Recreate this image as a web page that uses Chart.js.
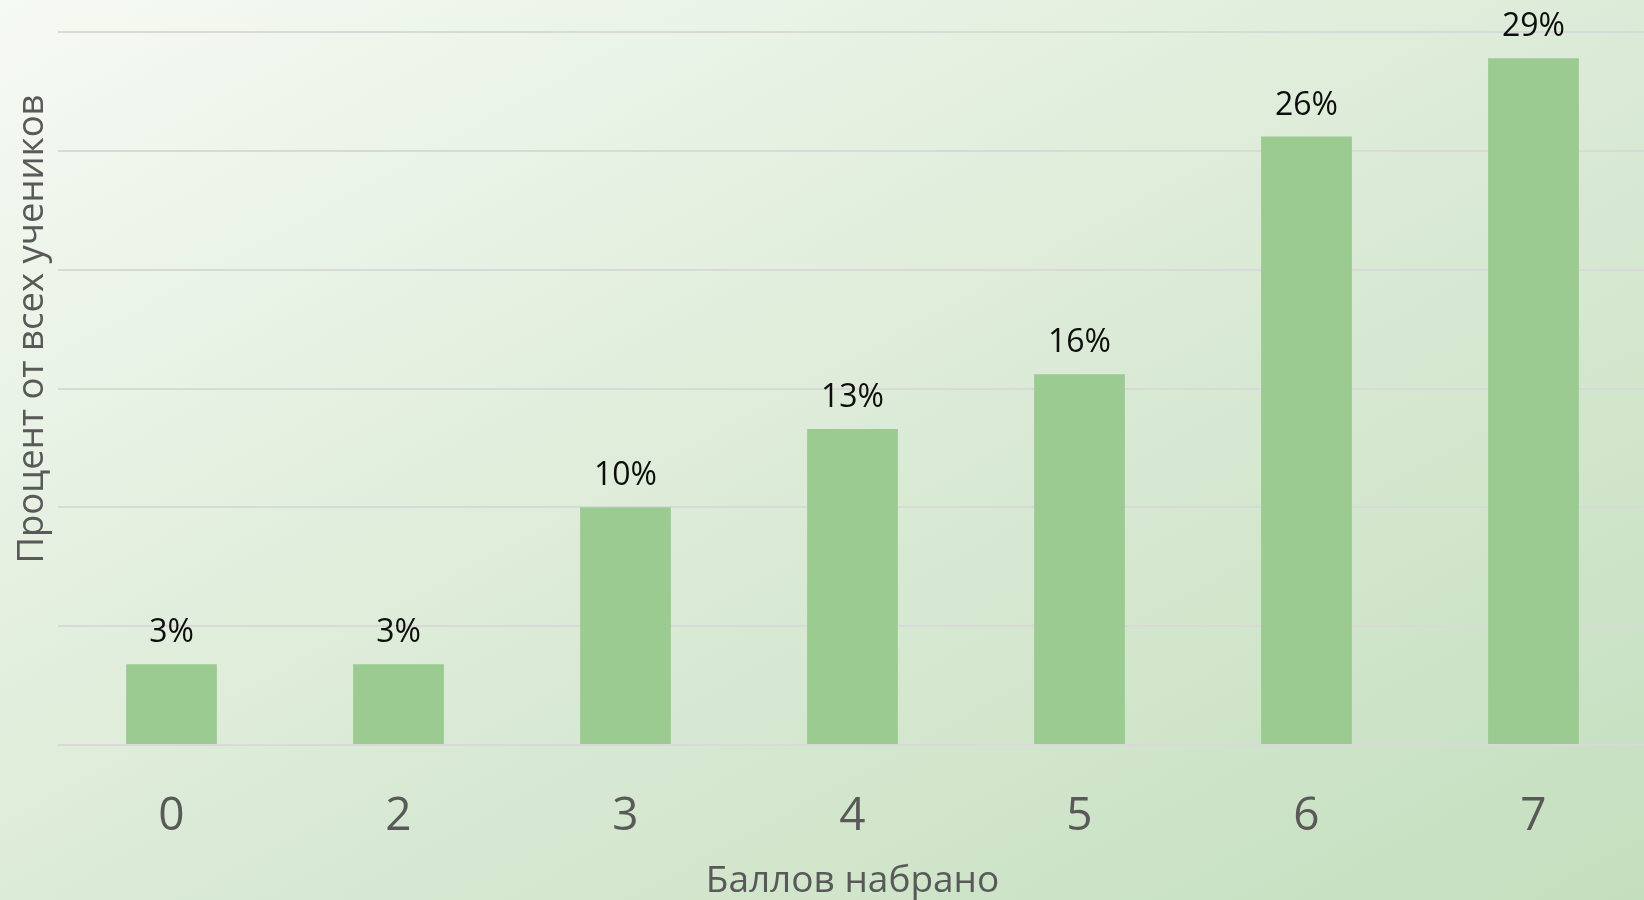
<!DOCTYPE html>
<html>
<head>
<meta charset="utf-8">
<script src="https://cdn.jsdelivr.net/npm/chart.js@4.4.0/dist/chart.umd.min.js"></script>
<style>
  html, body { margin: 0; padding: 0; }
  body { width: 1644px; height: 900px; overflow: hidden; }
  #page {
    width: 1644px; height: 900px; overflow: hidden;
    background: linear-gradient(to bottom right, #f6faf4 0%, #dcebd7 50%, #c4dfbe 100%);
  }
  #wrap { width: 1647px; height: 900px; position: relative; }
</style>
</head>
<body>
<div id="page"><div id="wrap"><canvas id="chart"></canvas></div></div>
<script>
const categories = ["0", "2", "3", "4", "5", "6", "7"];
const shares = [3.4, 3.4, 10.0, 13.3, 15.6, 25.6, 28.9];
const yTitle = "Процент от всех учеников";
const xTitle = "Баллов набрано";

const barColor = "#9ccb92";
const gridColor = "#d9d9d9";
const textGray = "#595959";
const fontFamily = "'Open Sans', 'Noto Sans', sans-serif";

const barLabels = {
  id: "barLabels",
  afterDatasetsDraw(chart) {
    const ctx = chart.ctx;
    const meta = chart.getDatasetMeta(0);
    ctx.save();
    ctx.font = "32px " + fontFamily;
    ctx.fillStyle = "#0d0d0d";
    ctx.textAlign = "center";
    ctx.textBaseline = "alphabetic";
    meta.data.forEach((bar, i) => {
      ctx.fillText(Math.round(shares[i]) + "%", bar.x, bar.y - 22);
    });
    ctx.restore();
  },
};

const sideTitle = {
  id: "sideTitle",
  afterDraw(chart) {
    const ctx = chart.ctx;
    ctx.save();
    ctx.translate(43, 329);
    ctx.rotate(-Math.PI / 2);
    ctx.font = "36.5px " + fontFamily;
    ctx.fillStyle = textGray;
    ctx.textAlign = "center";
    ctx.textBaseline = "alphabetic";
    ctx.fillText(yTitle, 0, 0);
    ctx.restore();
  },
};

new Chart(document.getElementById("chart"), {
  type: "bar",
  data: {
    labels: categories,
    datasets: [
      {
        data: shares,
        backgroundColor: barColor,
        barPercentage: 0.8,
        categoryPercentage: 0.5,
      },
    ],
  },
  options: {
    responsive: true,
    maintainAspectRatio: false,
    animation: false,
    layout: { padding: { top: 32, right: 0, left: 0, bottom: 0 } },
    plugins: {
      legend: { display: false },
      tooltip: { enabled: false },
    },
    scales: {
      x: {
        grid: { display: false },
        border: { display: false },
        ticks: {
          color: textGray,
          font: { family: fontFamily, size: 46 },
          padding: 36,
        },
        title: {
          display: true,
          text: xTitle,
          color: textGray,
          font: { family: fontFamily, size: 37 },
          padding: { top: 0, bottom: -4 },
        },
        afterFit(scale) {
          scale.height = 155;
        },
      },
      y: {
        min: 0,
        max: 30,
        ticks: { display: false, stepSize: 5 },
        grid: { color: gridColor, lineWidth: 2, drawTicks: false },
        border: { display: false },
        afterFit(scale) {
          scale.width = 58;
        },
      },
    },
  },
  plugins: [barLabels, sideTitle],
});
</script>
</body>
</html>
